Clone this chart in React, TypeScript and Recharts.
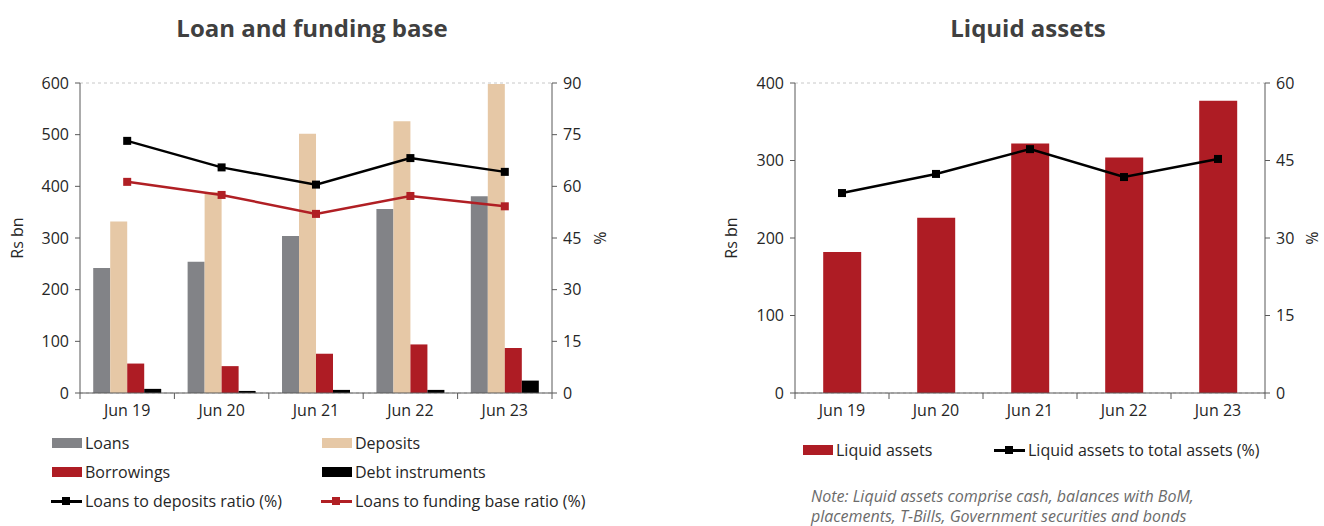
import React from 'react';
import { ComposedChart, Bar, Line, XAxis, YAxis, CartesianGrid, Label } from 'recharts';

const categories = ['Jun 19', 'Jun 20', 'Jun 21', 'Jun 22', 'Jun 23'];

// Loan and funding base (Rs bn, ratios in %)
const loans = [242, 254, 304, 356, 381];
const deposits = [332, 389, 502, 526, 598];
const borrowings = [57, 52, 76, 94, 87];
const debtInstruments = [8, 4, 6, 6, 24];
const loansToDeposits = [73.2, 65.5, 60.5, 68.2, 64.2];
const loansToFunding = [61.3, 57.5, 52.0, 57.2, 54.2];

// Liquid assets (Rs bn, ratio in %)
const liquidAssets = [182, 226, 322, 304, 377];
const liquidToTotal = [38.7, 42.4, 47.2, 41.8, 45.3];

const leftTicksA = [0, 100, 200, 300, 400, 500, 600];
const rightTicksA = [0, 15, 30, 45, 60, 75, 90];
const leftTicksB = [0, 100, 200, 300, 400];
const rightTicksB = [0, 15, 30, 45, 60];

const FONT = '"Open Sans", sans-serif';
const AXIS = '#595959';
const TEXT = '#262626';

const fundingData = categories.map((c, i) => ({
  cat: c,
  loans: loans[i],
  deposits: deposits[i],
  borrowings: borrowings[i],
  debt: debtInstruments[i],
  ltd: loansToDeposits[i],
  ltf: loansToFunding[i],
}));

const liquidData = categories.map((c, i) => ({
  cat: c,
  liquid: liquidAssets[i],
  ratio: liquidToTotal[i],
}));

const TICK_SIZE = 6;
const TICK_MARGIN = 4;

// category label at the centre, tick marks on the category edges
const EdgeTick = (props: any) => {
  const { x, y, payload, index, visibleTicksCount } = props;
  const off = payload.offset || 0;
  const axisY = y - TICK_SIZE - TICK_MARGIN;
  const last = index === visibleTicksCount - 1;
  return (
    <g>
      <line x1={x - off} x2={x - off} y1={axisY} y2={axisY + TICK_SIZE} stroke={AXIS} />
      {last && <line x1={x + off} x2={x + off} y1={axisY} y2={axisY + TICK_SIZE} stroke={AXIS} />}
      <text x={x} y={y} dy="0.8em" textAnchor="middle" fill={TEXT} fontSize={16} fontFamily={FONT}>
        {payload.value}
      </text>
    </g>
  );
};

const squareDot = (color: string) => (props: any) => (
  <rect key={`d-${props.index}`} x={props.cx - 4} y={props.cy - 4} width={8} height={8} fill={color} />
);

const tickStyle = { fill: TEXT, fontSize: 16, fontFamily: FONT };

const Swatch = ({ color }: { color: string }) => (
  <span style={{ display: 'inline-block', width: 30, height: 10, background: color, marginRight: 3 }} />
);

const LineKey = ({ color }: { color: string }) => (
  <span style={{ position: 'relative', display: 'inline-block', width: 31, height: 10, marginRight: 3 }}>
    <span style={{ position: 'absolute', left: 0, top: 4, width: 31, height: 3, background: color }} />
    <span style={{ position: 'absolute', left: 11, top: 1, width: 8, height: 8, background: color }} />
  </span>
);

const LegendItem = ({ left, top, children, label }: any) => (
  <div
    style={{
      position: 'absolute',
      left,
      top,
      display: 'flex',
      alignItems: 'center',
      fontFamily: FONT,
      fontSize: 16,
      color: TEXT,
      whiteSpace: 'nowrap',
      height: 20,
    }}
  >
    {children}
    {label}
  </div>
);

const titleStyle: React.CSSProperties = {
  position: 'absolute',
  top: 11,
  fontFamily: FONT,
  fontWeight: 700,
  fontSize: 24,
  color: '#404040',
  textAlign: 'center',
  whiteSpace: 'nowrap',
};

export default function App() {
  return (
    <div style={{ position: 'absolute', left: 0, top: 0, width: 1324, height: 526, background: '#fff', overflow: 'hidden' }}>
      {/* Loan and funding base */}
      <div style={{ ...titleStyle, left: 112, width: 400 }}>Loan and funding base</div>
      <div style={{ position: 'absolute', left: 0, top: 0 }}>
        <ComposedChart
          width={620}
          height={526}
          data={fundingData}
          margin={{ top: 83, right: 8, bottom: 103, left: 20 }}
          barGap={0}
          barCategoryGap="14%"
        >
          <CartesianGrid vertical={false} stroke="#c8c8c8" strokeDasharray="3 3" />
          <XAxis
            dataKey="cat"
            height={30}
            stroke={AXIS}
            tickLine={false}
            tickSize={TICK_SIZE}
            tickMargin={TICK_MARGIN}
            tick={<EdgeTick />}
            interval={0}
          />
          <YAxis
            yAxisId="left"
            width={60}
            domain={[0, 600]}
            ticks={leftTicksA}
            stroke={AXIS}
            tickSize={5}
            tickMargin={6}
            tick={tickStyle}
          >
            <Label value="Rs bn" angle={-90} position="insideLeft" offset={-3} style={{ ...tickStyle, textAnchor: 'middle' }} />
          </YAxis>
          <YAxis
            yAxisId="right"
            orientation="right"
            width={60}
            domain={[0, 90]}
            ticks={rightTicksA}
            stroke={AXIS}
            tickSize={5}
            tickMargin={6}
            tick={tickStyle}
          >
            <Label value="%" angle={90} position="insideRight" offset={12} style={{ ...tickStyle, textAnchor: 'middle' }} />
          </YAxis>
          <Bar yAxisId="left" dataKey="loans" fill="#828387" isAnimationActive={false} />
          <Bar yAxisId="left" dataKey="deposits" fill="#e6c8a6" isAnimationActive={false} />
          <Bar yAxisId="left" dataKey="borrowings" fill="#ae1c24" isAnimationActive={false} />
          <Bar yAxisId="left" dataKey="debt" fill="#000000" isAnimationActive={false} />
          <Line yAxisId="right" dataKey="ltd" stroke="#000000" strokeWidth={2.5} dot={squareDot('#000000')} activeDot={false} isAnimationActive={false} />
          <Line yAxisId="right" dataKey="ltf" stroke="#b01f24" strokeWidth={2.5} dot={squareDot('#b01f24')} activeDot={false} isAnimationActive={false} />
        </ComposedChart>
      </div>
      <LegendItem left={52} top={433} label="Loans"><Swatch color="#828387" /></LegendItem>
      <LegendItem left={322} top={433} label="Deposits"><Swatch color="#e6c8a6" /></LegendItem>
      <LegendItem left={52} top={462} label="Borrowings"><Swatch color="#ae1c24" /></LegendItem>
      <LegendItem left={322} top={462} label="Debt instruments"><Swatch color="#000000" /></LegendItem>
      <LegendItem left={51} top={491} label="Loans to deposits ratio (%)"><LineKey color="#000000" /></LegendItem>
      <LegendItem left={321} top={491} label="Loans to funding base ratio (%)"><LineKey color="#b01f24" /></LegendItem>

      {/* Liquid assets */}
      <div style={{ ...titleStyle, left: 828, width: 400 }}>Liquid assets</div>
      <div style={{ position: 'absolute', left: 700, top: 0 }}>
        <ComposedChart
          width={624}
          height={526}
          data={liquidData}
          margin={{ top: 83, right: 0, bottom: 103, left: 35 }}
          barCategoryGap="30%"
        >
          <CartesianGrid vertical={false} stroke="#c8c8c8" strokeDasharray="3 3" />
          <XAxis
            dataKey="cat"
            height={30}
            stroke={AXIS}
            tickLine={false}
            tickSize={TICK_SIZE}
            tickMargin={TICK_MARGIN}
            tick={<EdgeTick />}
            interval={0}
          />
          <YAxis
            yAxisId="left"
            width={60}
            domain={[0, 400]}
            ticks={leftTicksB}
            stroke={AXIS}
            tickSize={5}
            tickMargin={6}
            tick={tickStyle}
          >
            <Label value="Rs bn" angle={-90} position="insideLeft" offset={-4} style={{ ...tickStyle, textAnchor: 'middle' }} />
          </YAxis>
          <YAxis
            yAxisId="right"
            orientation="right"
            width={59}
            domain={[0, 60]}
            ticks={rightTicksB}
            stroke={AXIS}
            tickSize={5}
            tickMargin={6}
            tick={tickStyle}
          >
            <Label value="%" angle={90} position="insideRight" offset={12} style={{ ...tickStyle, textAnchor: 'middle' }} />
          </YAxis>
          <Bar yAxisId="left" dataKey="liquid" fill="#ae1c24" isAnimationActive={false} />
          <Line yAxisId="right" dataKey="ratio" stroke="#000000" strokeWidth={2.5} dot={squareDot('#000000')} activeDot={false} isAnimationActive={false} />
        </ComposedChart>
      </div>
      <LegendItem left={803} top={440} label="Liquid assets"><Swatch color="#ae1c24" /></LegendItem>
      <LegendItem left={994} top={440} label="Liquid assets to total assets (%)"><LineKey color="#000000" /></LegendItem>

      <div
        style={{
          position: 'absolute',
          left: 811,
          top: 486,
          fontFamily: FONT,
          fontStyle: 'italic',
          fontSize: 16,
          lineHeight: '20px',
          color: '#6b6b6b',
          whiteSpace: 'nowrap',
        }}
      >
        Note: Liquid assets comprise cash, balances with BoM,
        <br />
        placements, T-Bills, Government securities and bonds
      </div>
    </div>
  );
}
